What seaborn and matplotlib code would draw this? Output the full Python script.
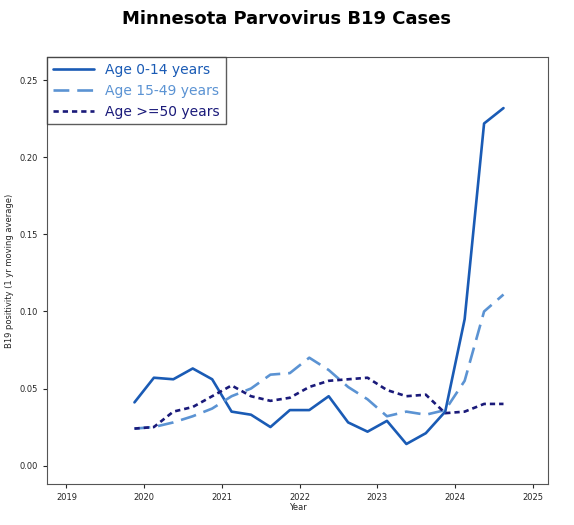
import matplotlib
matplotlib.use("Agg")
import matplotlib.pyplot as plt
import seaborn as sns
import pandas as pd

years = [2019.875 + 0.25 * i for i in range(20)]
age_0_14 = [0.041, 0.057, 0.056, 0.063, 0.056, 0.035, 0.033, 0.025, 0.036, 0.036,
            0.045, 0.028, 0.022, 0.029, 0.014, 0.021, 0.035, 0.095, 0.222, 0.232]
age_15_49 = [0.024, 0.025, 0.028, 0.032, 0.037, 0.045, 0.050, 0.059, 0.060, 0.070,
             0.062, 0.051, 0.043, 0.032, 0.035, 0.033, 0.036, 0.055, 0.100, 0.111]
age_50 = [0.024, 0.025, 0.035, 0.038, 0.045, 0.052, 0.045, 0.042, 0.044, 0.051,
          0.055, 0.056, 0.057, 0.049, 0.045, 0.046, 0.034, 0.035, 0.040, 0.040]
labels = ["Age 0-14 years", "Age 15-49 years", "Age >=50 years"]

sns.set_style("white")
fig = plt.figure(figsize=(5.74, 5.25), dpi=100)
ax = fig.add_axes([0.082, 0.078, 0.873, 0.813])
styles = [("#1a5bb5", "-", labels[0], age_0_14),
          ("#5b93d3", (0, (6, 3)), labels[1], age_15_49),
          ("#1a1a7a", (0, (2, 1.5)), labels[2], age_50)]
for c, ls, lab, vals in styles:
    df = pd.DataFrame({"Year": years, "v": vals})
    sns.lineplot(data=df, x="Year", y="v", ax=ax, color=c, linestyle=ls, lw=1.9, label=lab)
ax.set_xlim(2018.75, 2025.2)
ax.set_ylim(-0.012, 0.265)
ax.set_xticks(range(2019, 2026))
ax.set_yticks([0, 0.05, 0.10, 0.15, 0.20, 0.25])
ax.set_yticklabels(["0.00", "0.05", "0.10", "0.15", "0.20", "0.25"])
ax.tick_params(labelsize=6, length=3, left=True, bottom=True)
ax.set_xlabel("Year", fontsize=6, labelpad=1)
ax.set_ylabel("B19 positivity (1 yr moving average)", fontsize=6)
for s in ax.spines.values():
    s.set_color("#555555"); s.set_linewidth(0.8)
leg = ax.legend(loc="upper left", fontsize=10, frameon=True, fancybox=False,
                edgecolor="#333333", handlelength=3, borderaxespad=0)
for t, (c, *_ ) in zip(leg.get_texts(), styles):
    t.set_color(c)
fig.suptitle("Minnesota Parvovirus B19 Cases", fontsize=13, fontweight="bold",
             color="black", y=0.98)
fig.savefig("out.png", dpi=100)
